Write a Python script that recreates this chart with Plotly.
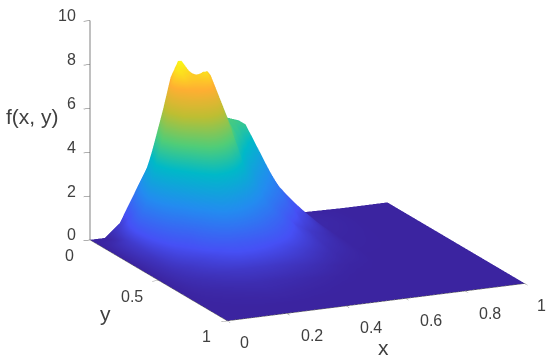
"""Surface of f(x, y) over the unit square, MATLAB style view"""

import plotly.graph_objects as go

x_vals = [0, .05, .1, .15, .2, .225, .25, .275, .3, .325, .35, .4, .45, .5, .55, .6, .7, .85, 1]
y_vals = [0, .05, .1, .125, .15, .175, .2, .25, .3, .35, .4, .5, .6, .7, .8, .9, 1]

# one row per y value
z_y000 = [.01, .01, .6, 1.9, 3.2, 3.9, 4.4, 4.6, 4.6, 4.6, 4.6, 4.7, 4.85, 4.6, 3.2, 1.9, .05, .01, .01]
z_y005 = [.01, .1, .9, 2.6, 3.9, 5.4, 6.8, 7.0, 6.6, 6.0, 5.4, 4.8, 4.9, 4.6, 3.2, 1.8, .1, .01, .01]
z_y010 = [.01, .25, 1.4, 3.5, 6.0, 7.4, 8.1, 7.7, 7.3, 6.8, 6.0, 4.8, 4.7, 3.6, 2.6, 1.6, .12, .01, .01]
z_y012 = [.01, .35, 1.65, 3.9, 6.7, 7.8, 8.2, 7.7, 7.4, 7.3, 6.6, 5.0, 4.4, 3.3, 2.4, 1.5, .12, .01, .01]
z_y015 = [.01, .45, 1.9, 4.2, 7.3, 8.0, 7.9, 7.6, 7.6, 7.7, 7.0, 5.2, 4.0, 3.0, 2.2, 1.4, .12, .01, .01]
z_y017 = [.01, .5, 2.1, 4.6, 7.5, 7.9, 7.7, 7.6, 7.8, 7.6, 6.7, 4.9, 3.6, 2.75, 2.05, 1.2, .11, .01, .01]
z_y020 = [.01, .55, 2.3, 5.0, 7.3, 7.7, 7.55, 7.6, 7.9, 7.3, 6.3, 4.5, 3.3, 2.5, 1.9, 1.0, .1, .01, .01]
z_y025 = [.01, .55, 2.0, 4.2, 6.4, 6.9, 7.2, 7.3, 7.2, 6.5, 5.7, 3.8, 2.8, 2.1, 1.4, .75, .08, .01, .01]
z_y030 = [.01, .5, 1.6, 3.0, 4.6, 5.3, 5.8, 5.9, 5.6, 5.1, 4.4, 3.2, 2.3, 1.6, .9, .5, .06, .01, .01]
z_y035 = [.01, .4, 1.2, 2.0, 3.4, 4.0, 4.5, 4.5, 4.3, 3.9, 3.4, 2.5, 1.9, 1.25, .75, .4, .05, .01, .01]
z_y040 = [.01, .35, .9, 1.3, 2.3, 2.8, 3.2, 3.25, 3.1, 2.8, 2.5, 1.9, 1.4, .95, .6, .3, .04, .01, .01]
z_y050 = [.01, .25, .45, .7, 1.0, 1.15, 1.3, 1.3, 1.3, 1.22, 1.15, .95, .72, .5, .3, .15, .02, .01, .01]
z_y060 = [.01, .15, .25, .35, .45, .48, .5, .5, .5, .48, .45, .38, .3, .2, .1, .05, .01, .01, .01]
z_y070 = [.01, .08, .12, .16, .2, .21, .22, .21, .2, .19, .18, .14, .1, .06, .03, .01, .01, .01, .01]
z_y080 = [.01, .03, .05, .07, .09, .1, .1, .1, .09, .08, .07, .05, .03, .01, .01, .01, .01, .01, .01]
z_y090 = [.01, .01, .01, .02, .02, .02, .02, .02, .02, .02, .01, .01, .01, .01, .01, .01, .01, .01, .01]
z_y100 = [.01, .01, .01, .01, .01, .01, .01, .01, .01, .01, .01, .01, .01, .01, .01, .01, .01, .01, .01]

x_ticks = [0, .2, .4, .6, .8, 1]
x_tick_labels = ["0", "0.2", "0.4", "0.6", "0.8", "1"]
y_ticks = [0, .5, 1]
y_tick_labels = ["0", "0.5", "1"]
z_ticks = [0, 2, 4, 6, 8, 10]
z_tick_labels = ["0", "2", "4", "6", "8", "10"]

TEXT_COLOR = "#404040"
FONT_NAME = "Liberation Sans"

color_stops = [
    [0.0, "#3b24a0"],
    [0.12, "#4650f5"],
    [0.3, "#238cf0"],
    [0.48, "#00b9c8"],
    [0.61, "#50cd78"],
    [0.76, "#bebe32"],
    [0.89, "#ffaf32"],
    [1.0, "#fafa14"],
]

z_rows = [z_y000, z_y005, z_y010, z_y012, z_y015, z_y017, z_y020, z_y025, z_y030,
          z_y035, z_y040, z_y050, z_y060, z_y070, z_y080, z_y090, z_y100]

fig = go.Figure()
fig.add_trace(
    go.Surface(
        x=x_vals,
        y=y_vals,
        z=z_rows,
        colorscale=color_stops,
        cmin=0,
        cmax=8.2,
        showscale=False,
        hoverinfo="skip",
        lighting=dict(ambient=1, diffuse=0, specular=0, fresnel=0, roughness=1),
        contours=dict(
            x=dict(highlight=False),
            y=dict(highlight=False),
            z=dict(highlight=False),
        ),
    )
)


def axis_style(ticks, axis_range, line_color, line_width):
    return dict(
        range=axis_range,
        tickvals=ticks,
        showticklabels=False,
        ticks="outside",
        ticklen=7,
        tickcolor="#606060",
        title=dict(text=""),
        showgrid=False,
        zeroline=False,
        showbackground=False,
        showspikes=False,
        showline=True,
        linecolor=line_color,
        linewidth=line_width,
    )


def tick_note(text, x, y, z, anchor, dx, dy):
    return dict(
        text=text, x=x, y=y, z=z, showarrow=False, xanchor=anchor, yanchor="middle",
        xshift=dx, yshift=dy, font=dict(family=FONT_NAME, size=16, color=TEXT_COLOR),
    )


# tick labels sit where MATLAB put them, plotly's own ones overlap at the corner
tick_notes = []
for val, label in zip(x_ticks, x_tick_labels):
    tick_notes.append(tick_note(label, val, 1, 0, "center", 17 if len(label) == 1 else 25, -22))
for val, label in zip(y_ticks, y_tick_labels):
    tick_notes.append(tick_note(label, 0, val, 0, "right", -14, -16))
for val, label in zip(z_ticks, z_tick_labels):
    tick_notes.append(tick_note(label, 0, 0, val, "right", -12, 5))

fig.update_layout(
    width=550,
    height=362,
    margin=dict(l=0, r=0, t=0, b=0),
    paper_bgcolor="white",
    scene=dict(
        xaxis=axis_style(x_ticks, [0, 1], "#505050", 1),
        yaxis=axis_style(y_ticks, [1, 0], "#505050", 1),
        zaxis=axis_style(z_ticks, [0, 10], "#808080", 2),
        aspectmode="manual",
        aspectratio=dict(x=1.81, y=1.81, z=1.26),
        camera=dict(
            projection=dict(type="orthographic"),
            up=dict(x=0, y=0, z=1),
            center=dict(x=-0.182, y=0.032, z=-0.153),
            eye=dict(x=-1.391, y=-2.587, z=0.663),
        ),
        annotations=tick_notes,
    ),
)
for text, px, py in [("f(x, y)", 32, 116), ("y", 105, 313), ("x", 383, 347)]:
    fig.add_annotation(
        text=text, x=px / 550, y=1 - py / 362, xref="paper", yref="paper", showarrow=False,
        xanchor="center", yanchor="middle",
        font=dict(family=FONT_NAME, size=21, color=TEXT_COLOR),
    )

# default body margin pushes the page 8px off, the picture is exactly window sized
fig.write_html(
    "out.html",
    config=dict(displayModeBar=False),
    post_script="document.body.style.margin = '0';",
)
